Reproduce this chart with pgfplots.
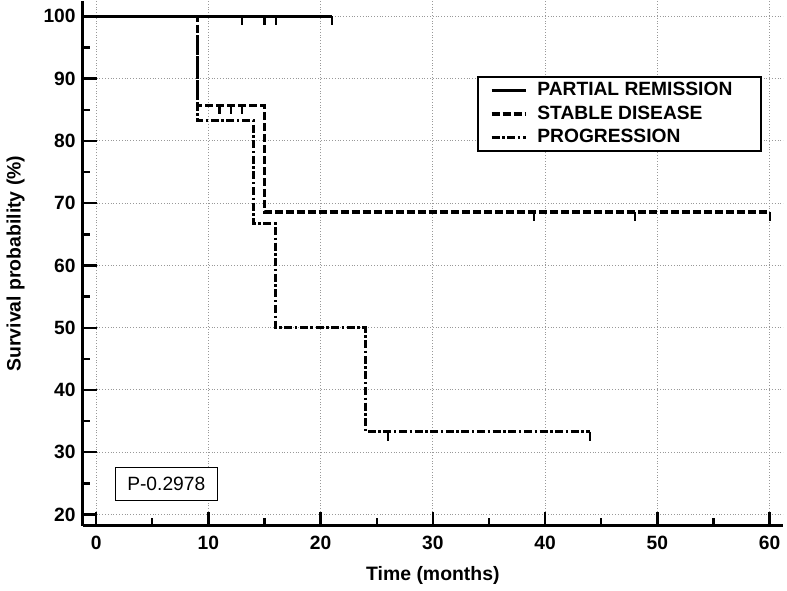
\documentclass[border=0pt]{standalone}
\usepackage{fontspec}
\setmainfont{Liberation Sans}
\usepackage{pgfplots}
\pgfplotsset{compat=1.18}

% censor mark: short stroke hanging down from the curve
\pgfdeclareplotmark{cdown}{%
  \pgfpathmoveto{\pgfpoint{0pt}{0pt}}%
  \pgfpathlineto{\pgfpoint{0pt}{-4.5pt}}%
  \pgfusepathqstroke}

\begin{document}
\begin{tikzpicture}
\begin{axis}[
    scale only axis,
    width=350pt, height=262pt,
    xmin=-1.2, xmax=61.2, ymin=18.2, ymax=102.4,
    axis lines=left,
    axis line style={-, line width=1.4pt},
    xtick={0,10,...,60}, ytick={20,30,...,100},
    minor x tick num=1, minor y tick num=1,
    tick align=inside,
    major tick length=7pt, minor tick length=3.8pt,
    every tick/.style={black, line width=1.2pt},
    grid=major,
    major grid style={densely dotted, gray!80, line width=0.5pt},
    /pgf/number format/assume math mode=true,
    ticklabel style={font=\bfseries\fontsize{9.6}{11}\selectfont},
    xticklabel style={yshift=-1.5pt},
    xlabel={\bfseries Time (months)},
    ylabel={\bfseries Survival probability (\%)},
    label style={font=\bfseries\fontsize{9.7}{11}\selectfont},
    xlabel style={yshift=-1.5pt},
    ylabel style={yshift=2.5pt},
    legend style={at={(0.563,0.857)}, anchor=north west, draw=black,
        line width=1pt, font=\bfseries\fontsize{9.6}{11}\selectfont,
        row sep=-0.5pt, inner xsep=6pt, inner ysep=0.5pt,
        /tikz/every odd column/.append style={column sep=3pt}},
    legend cell align=left,
]
% partial remission
\addplot[black, line width=1.4pt] coordinates {(0,100) (21,100)};
\addlegendentry{PARTIAL REMISSION\rule{6.5pt}{0pt}}
% stable disease
\addplot[black, line width=1.6pt, dash pattern=on 4pt off 1.5pt] coordinates {
    (0,100) (9,100) (9,85.71) (15,85.71) (15,68.57) (60,68.57)};
\addlegendentry{STABLE DISEASE}
% progression
\addplot[black, line width=1.5pt, dash pattern=on 4pt off 1.3pt on 1.2pt off 1.3pt] coordinates {
    (0,100) (9,100) (9,83.33) (14,83.33) (14,66.67) (16,66.67) (16,50)
    (24,50) (24,33.33) (44,33.33)};
\addlegendentry{PROGRESSION}
% censored observations
\addplot[only marks, mark=cdown, black, line width=1.1pt, forget plot] coordinates {
    (13,100) (15,100) (16,100) (21,100)};
\addplot[only marks, mark=cdown, black, line width=1.1pt, forget plot] coordinates {
    (11,85.71) (12,85.71) (13,85.71) (39,68.57) (48,68.57) (60,68.57)};
\addplot[only marks, mark=cdown, black, line width=1.1pt, forget plot] coordinates {
    (26,33.33) (44,33.33)};
\node[draw=black, line width=0.6pt, fill=white, font=\fontsize{9.6}{11}\selectfont,
    inner xsep=6pt, inner ysep=5pt] at (axis cs:6.25,24.9) {P-0.2978};
\end{axis}
\end{tikzpicture}
\end{document}
